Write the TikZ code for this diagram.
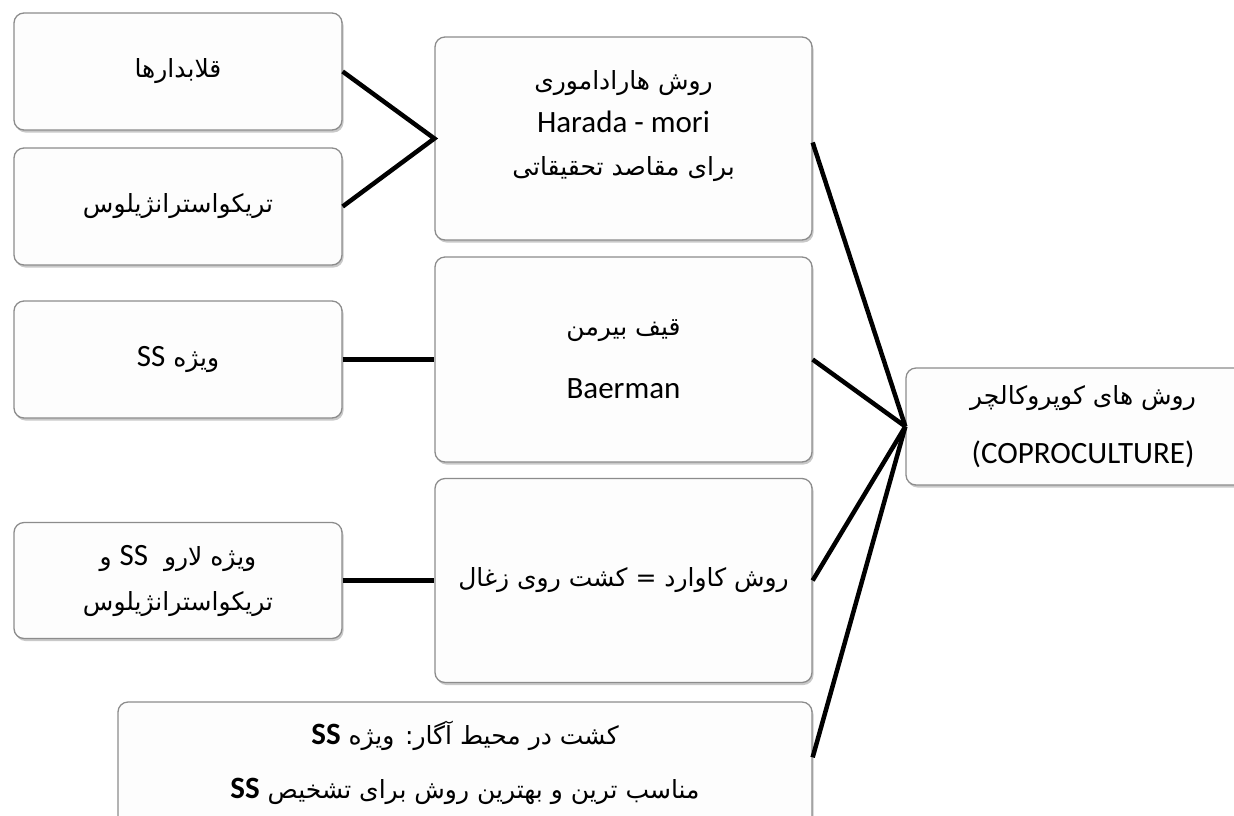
\documentclass[tikz,border=0pt]{standalone}
\usepackage{fontspec}
\setmainfont{Carlito}
\newfontfamily\fa[Script=Arabic]{DejaVu Sans}
\TeXXeTstate=1
\usetikzlibrary{shadows}
\newcommand\fatext[1]{{\fa\fontsize{25}{30}\selectfont\beginR #1\endR}}
\newcommand\latx[1]{\beginL{\normalfont\fontsize{31}{38}\selectfont #1}\endL}
\definecolor{boxgray}{RGB}{140,140,140}
\definecolor{boxfill}{RGB}{253,253,253}
\tikzset{
  box/.style={draw=boxgray, line width=1.3pt, fill=boxfill, rounded corners=10pt,
    drop shadow={shadow xshift=1.5pt, shadow yshift=-2.5pt, opacity=0.35, fill=black!60},
    align=center, inner sep=0pt},
  txt/.style={align=center, inner sep=0pt},
  conn/.style={line width=4.5pt, black, line join=miter},
}
\begin{document}
\begin{tikzpicture}[x=1pt, y=-1pt, font=\fontsize{31}{42}\selectfont]
\useasboundingbox (0,0) rectangle (1234,815);
\fill[white] (0,0) rectangle (1234,815);
\clip (0,0) rectangle (1234,815);
% left column
\node[box, minimum width=328pt, minimum height=117pt] (l1) at (178,71.5) {\fatext{قلابدارها}};
\node[box, minimum width=328pt, minimum height=117pt] (l2) at (178,206.5) {\fatext{تریکواسترانژیلوس}};
\node[box, minimum width=328pt, minimum height=117pt] (l3) at (178,359.5) {\fatext{ویژه \latx{SS}}};
\node[box, minimum width=328pt, minimum height=116pt, font=\fontsize{31}{45}\selectfont] (l4) at (178,580.5)
  {\fatext{ویژه لارو\ \ \latx{SS} و}\\\fatext{تریکواسترانژیلوس}};
% middle column
\node[box, minimum width=377pt, minimum height=203pt] (m1) at (623.5,138.5) {};
\node[txt, font=\fontsize{31}{43}\selectfont] (m1t) at (623.5,126)
  {\fatext{روش هارادامورى}\\Harada - mori\\\fatext{برای مقاصد تحقیقاتی}};
\node[box, minimum width=377pt, minimum height=205pt, font=\fontsize{31}{63}\selectfont] (m2) at (623.5,359.5)
  {\fatext{قیف بیرمن}\\Baerman};
\node[box, minimum width=377pt, minimum height=204pt] (m3) at (623.5,580.5)
  {\fatext{روش کاوارد = کشت روی زغال}};
% bottom box
\node[box, minimum width=694pt, minimum height=133pt] (b) at (465,768.5) {};
\node[txt, font=\fontsize{31}{54}\selectfont] (bt) at (465,763)
  {\fatext{کشت در محیط آگار: ویژه \latx{\bfseries SS}}\\\fatext{مناسب ترین و بهترین روش برای تشخیص \latx{\bfseries SS}}};
% right box
\node[box, minimum width=354pt, minimum height=117pt, font=\fontsize{31}{59}\selectfont] (c) at (1083,426.5)
  {\fatext{روش های کوپروکالچر}\\(COPROCULTURE)};
% connectors
\draw[conn] (l1.east) -- (m1.west) -- (l2.east);
\draw[conn] (l3.east) -- (m2.west);
\draw[conn] (l4.east) -- (m3.west);
\draw[conn] ([yshift=-4pt]m1.east) -- (c.west);
\draw[conn] (m2.east) -- (c.west);
\draw[conn] (m3.east) -- (c.west);
\draw[conn] ([yshift=-56pt]b.north east) -- (c.west);
\end{tikzpicture}
\end{document}
